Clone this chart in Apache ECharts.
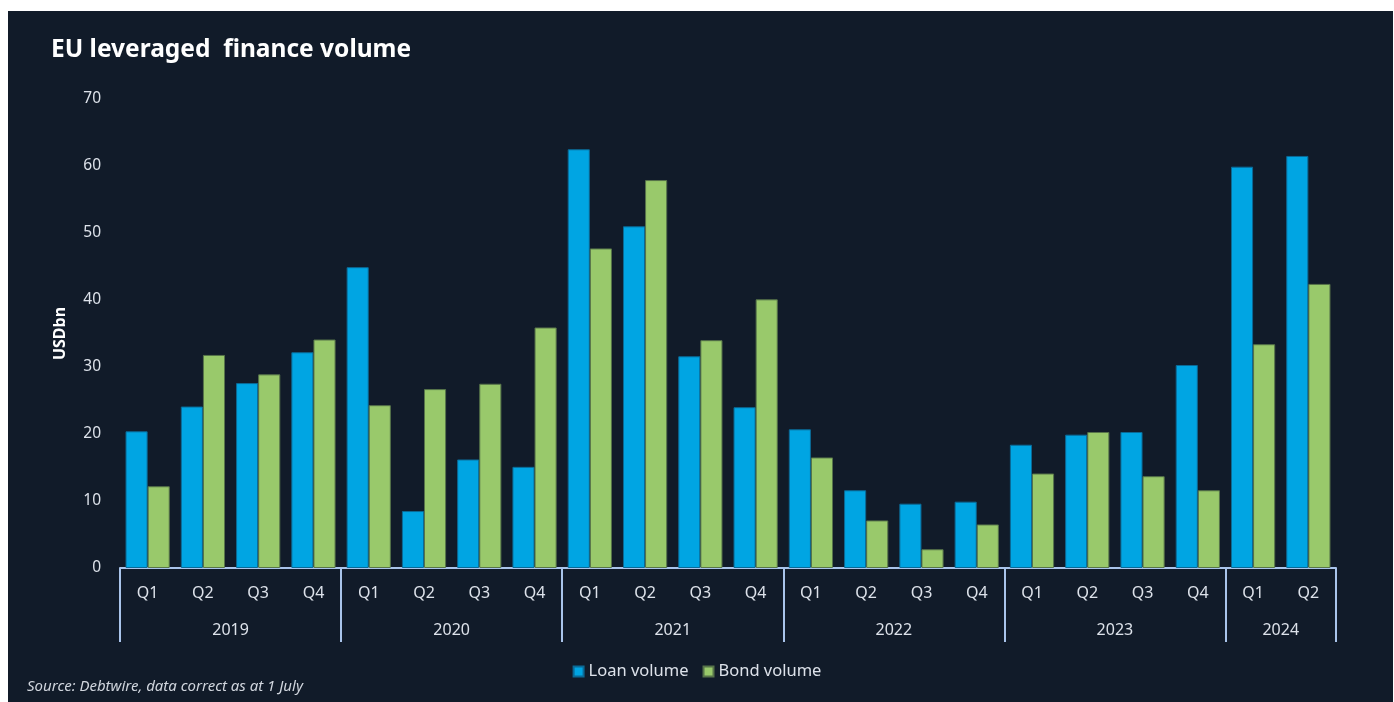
<!DOCTYPE html>
<html>
<head>
<meta charset="utf-8">
<title>EU leveraged finance volume</title>
<script src="https://cdn.jsdelivr.net/npm/echarts@6/dist/echarts.min.js"></script>
<style>
  html, body { margin: 0; padding: 0; background: #ffffff; }
  #panel { position: absolute; left: 8px; top: 11px; width: 1385px; height: 691px; background: #111b29; }
  #chart { position: absolute; left: 0; top: 0; width: 1394px; height: 702px; }
</style>
</head>
<body>
<div id="panel"></div>
<div id="chart"></div>
<script>
// Quarterly EU leveraged finance volume, USD bn
const years = ['2019', '2020', '2021', '2022', '2023', '2024'];
const quartersPerYear = [4, 4, 4, 4, 4, 2];
const quarterNames = ['Q1', 'Q2', 'Q3', 'Q4'];
const loanVolume = [
  20.4, 24.1, 27.6, 32.2,
  44.9, 8.5, 16.2, 15.1,
  62.5, 51.0, 31.6, 24.0,
  20.7, 11.6, 9.6, 9.9,
  18.4, 19.9, 20.3, 30.3,
  59.9, 61.5
];
const bondVolume = [
  12.2, 31.8, 28.9, 34.1,
  24.3, 26.7, 27.5, 35.9,
  47.7, 57.9, 34.0, 40.1,
  16.5, 7.1, 2.8, 6.5,
  14.1, 20.3, 13.7, 11.6,
  33.4, 42.4
];

// Build the quarter categories and the year group boundaries / centres
const quarters = [];
const boundaries = [0];
const centres = [];
const centreYear = {};
let pos = 0;
years.forEach((y, i) => {
  const n = quartersPerYear[i];
  for (let q = 0; q < n; q++) quarters.push(quarterNames[q]);
  centres.push(pos + n / 2);
  centreYear[pos + n / 2] = y;
  pos += n;
  boundaries.push(pos);
});

const textColor = '#dde2ea';
const axisColor = '#a9c4eb';
const font = 'Noto Sans';

const chart = echarts.init(document.getElementById('chart'), null, { renderer: 'canvas' });
chart.setOption({
  backgroundColor: 'transparent',
  animation: false,
  title: {
    text: 'EU leveraged  finance volume',
    left: 46, top: 33,
    textStyle: { color: '#ffffff', fontSize: 24.5, fontWeight: 'bold', fontFamily: font }
  },
  legend: {
    bottom: 17, left: 'center',
    itemWidth: 10, itemHeight: 10, itemGap: 14,
    icon: 'rect',
    textStyle: { color: textColor, fontSize: 16.5, fontFamily: font },
    data: ['Loan volume', 'Bond volume']
  },
  graphic: [{
    type: 'text', left: 27, top: 679,
    style: {
      text: 'Source: Debtwire, data correct as at 1 July',
      fill: '#d0d5dd', fontSize: 15, fontStyle: 'italic', fontFamily: font
    }
  }],
  grid: { left: 120, right: 58, top: 99, bottom: 134 },
  xAxis: [{
    type: 'category',
    data: quarters,
    axisLine: { show: true, lineStyle: { color: axisColor, width: 2 } },
    axisTick: { show: false },
    axisLabel: { color: textColor, fontSize: 16, margin: 17, fontFamily: font, interval: 0 },
    splitLine: { show: false }
  }, {
    type: 'value',
    position: 'bottom',
    min: 0, max: quarters.length,
    axisLine: { show: false },
    axisTick: {
      show: true, customValues: boundaries, length: 74,
      lineStyle: { color: axisColor, width: 2 }
    },
    axisLabel: {
      show: true, customValues: centres, margin: 54,
      color: textColor, fontSize: 16, fontFamily: font,
      formatter: v => centreYear[v] || ''
    },
    splitLine: { show: false }
  }],
  yAxis: {
    type: 'value',
    min: 0, max: 70, interval: 10,
    name: 'USDbn',
    nameLocation: 'middle',
    nameGap: 52,
    nameRotate: 90,
    nameTextStyle: { color: '#ffffff', fontSize: 16, fontWeight: 'bold', fontFamily: font },
    axisLine: { show: false },
    axisTick: { show: false },
    splitLine: { show: false },
    axisLabel: { color: textColor, fontSize: 15.5, margin: 19, fontFamily: font }
  },
  series: [{
    name: 'Loan volume',
    type: 'bar',
    xAxisIndex: 0,
    data: loanVolume,
    barGap: '0%',
    barCategoryGap: '20%',
    itemStyle: { color: '#00a5e3', borderColor: '#0b6a96', borderWidth: 1 }
  }, {
    name: 'Bond volume',
    type: 'bar',
    xAxisIndex: 0,
    data: bondVolume,
    barGap: '0%',
    barCategoryGap: '20%',
    itemStyle: { color: '#99c96b', borderColor: '#57744a', borderWidth: 1 }
  }]
});
</script>
</body>
</html>
